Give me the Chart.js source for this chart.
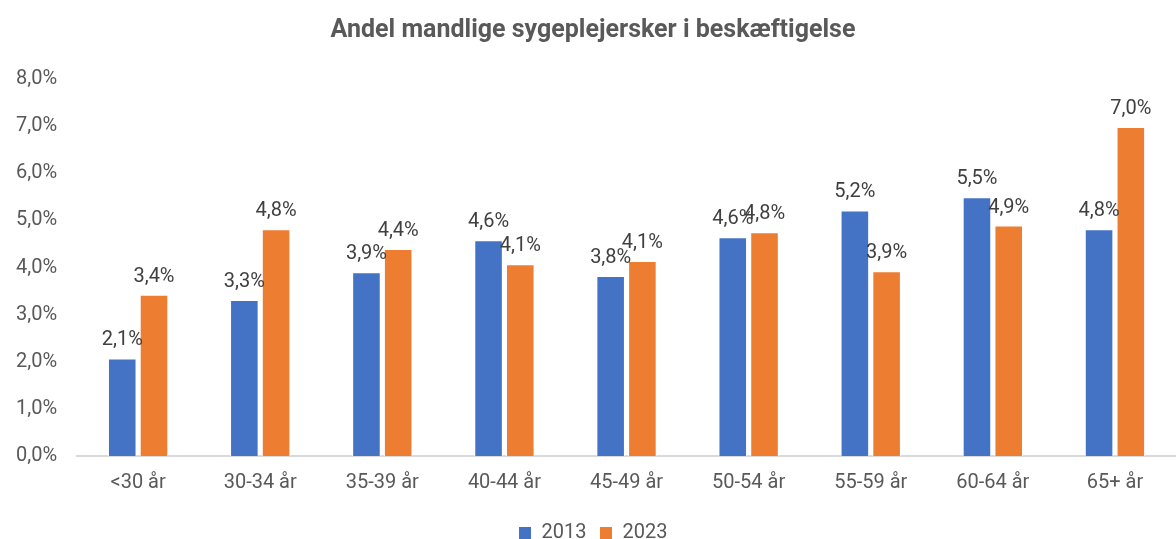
<!DOCTYPE html>
<html>
<head>
<meta charset="utf-8">
<script src="https://cdn.jsdelivr.net/npm/chart.js@4"></script>
<style>
  body { margin: 0; background: #fff; }
  #wrap { width: 1176px; height: 539px; }
</style>
</head>
<body>
<div id="wrap"><canvas id="maleChart"></canvas></div>
<script>
// aldersgrupper og andele (%)
const categories = ['<30 år', '30-34 år', '35-39 år', '40-44 år', '45-49 år', '50-54 år', '55-59 år', '60-64 år', '65+ år'];
const values2013 = [2.07, 3.31, 3.90, 4.58, 3.82, 4.64, 5.21, 5.49, 4.81];
const values2023 = [3.42, 4.81, 4.39, 4.07, 4.14, 4.75, 3.92, 4.89, 6.98];
const yTicks = [0, 1, 2, 3, 4, 5, 6, 7, 8];

const fmt = v => v.toFixed(1).replace('.', ',') + '%';

// etiketter over søjlerne
const barLabels = {
    id: 'barLabels',
    afterDatasetsDraw(chart) {
        const c = chart.ctx;
        c.save();
        c.font = '20px Roboto';
        c.fillStyle = '#404040';
        c.textAlign = 'center';
        c.textBaseline = 'bottom';
        chart.data.datasets.forEach((ds, i) => {
            chart.getDatasetMeta(i).data.forEach((bar, j) => {
                c.fillText(fmt(ds.data[j]), bar.x, bar.y - 8);
            });
        });
        c.restore();
    }
};

Chart.defaults.font.family = 'Roboto';
Chart.defaults.color = '#595959';

const maleChart = new Chart(document.getElementById('maleChart').getContext('2d'), {
    type: 'bar',
    data: {
        labels: categories,
        datasets: [{
            label: '2013',
            data: values2013,
            backgroundColor: '#4472C4',
            borderColor: '#ffffff',
            borderWidth: 1,
            categoryPercentage: 0.52,
            barPercentage: 0.9
        }, {
            label: '2023',
            data: values2023,
            backgroundColor: '#ED7D31',
            borderColor: '#ffffff',
            borderWidth: 1,
            categoryPercentage: 0.52,
            barPercentage: 0.9
        }]
    },
    options: {
        responsive: true,
        maintainAspectRatio: false,
        animation: false,
        layout: { padding: { left: -4, right: -14, top: 4, bottom: -14 } },
        scales: {
            x: {
                grid: { display: false, drawTicks: false },
                border: { color: '#d9d9d9', width: 2 },
                ticks: { font: { size: 20 }, padding: 15, color: '#595959' }
            },
            y: {
                min: 0,
                max: 8,
                afterBuildTicks: axis => { axis.ticks = yTicks.map(v => ({ value: v })); },
                grid: { display: false, drawTicks: false },
                border: { display: false },
                ticks: {
                    font: { size: 20 },
                    padding: 20,
                    color: '#595959',
                    callback: v => fmt(v)
                }
            }
        },
        plugins: {
            title: {
                display: true,
                text: 'Andel mandlige sygeplejersker i beskæftigelse',
                font: { size: 25, weight: 'bold' },
                color: '#595959',
                padding: { top: 12, bottom: 33 }
            },
            legend: {
                position: 'bottom',
                labels: { font: { size: 20 }, boxWidth: 13, boxHeight: 13, padding: 13, color: '#595959' }
            },
            tooltip: { enabled: false }
        }
    },
    plugins: [barLabels]
});
</script>
</body>
</html>
